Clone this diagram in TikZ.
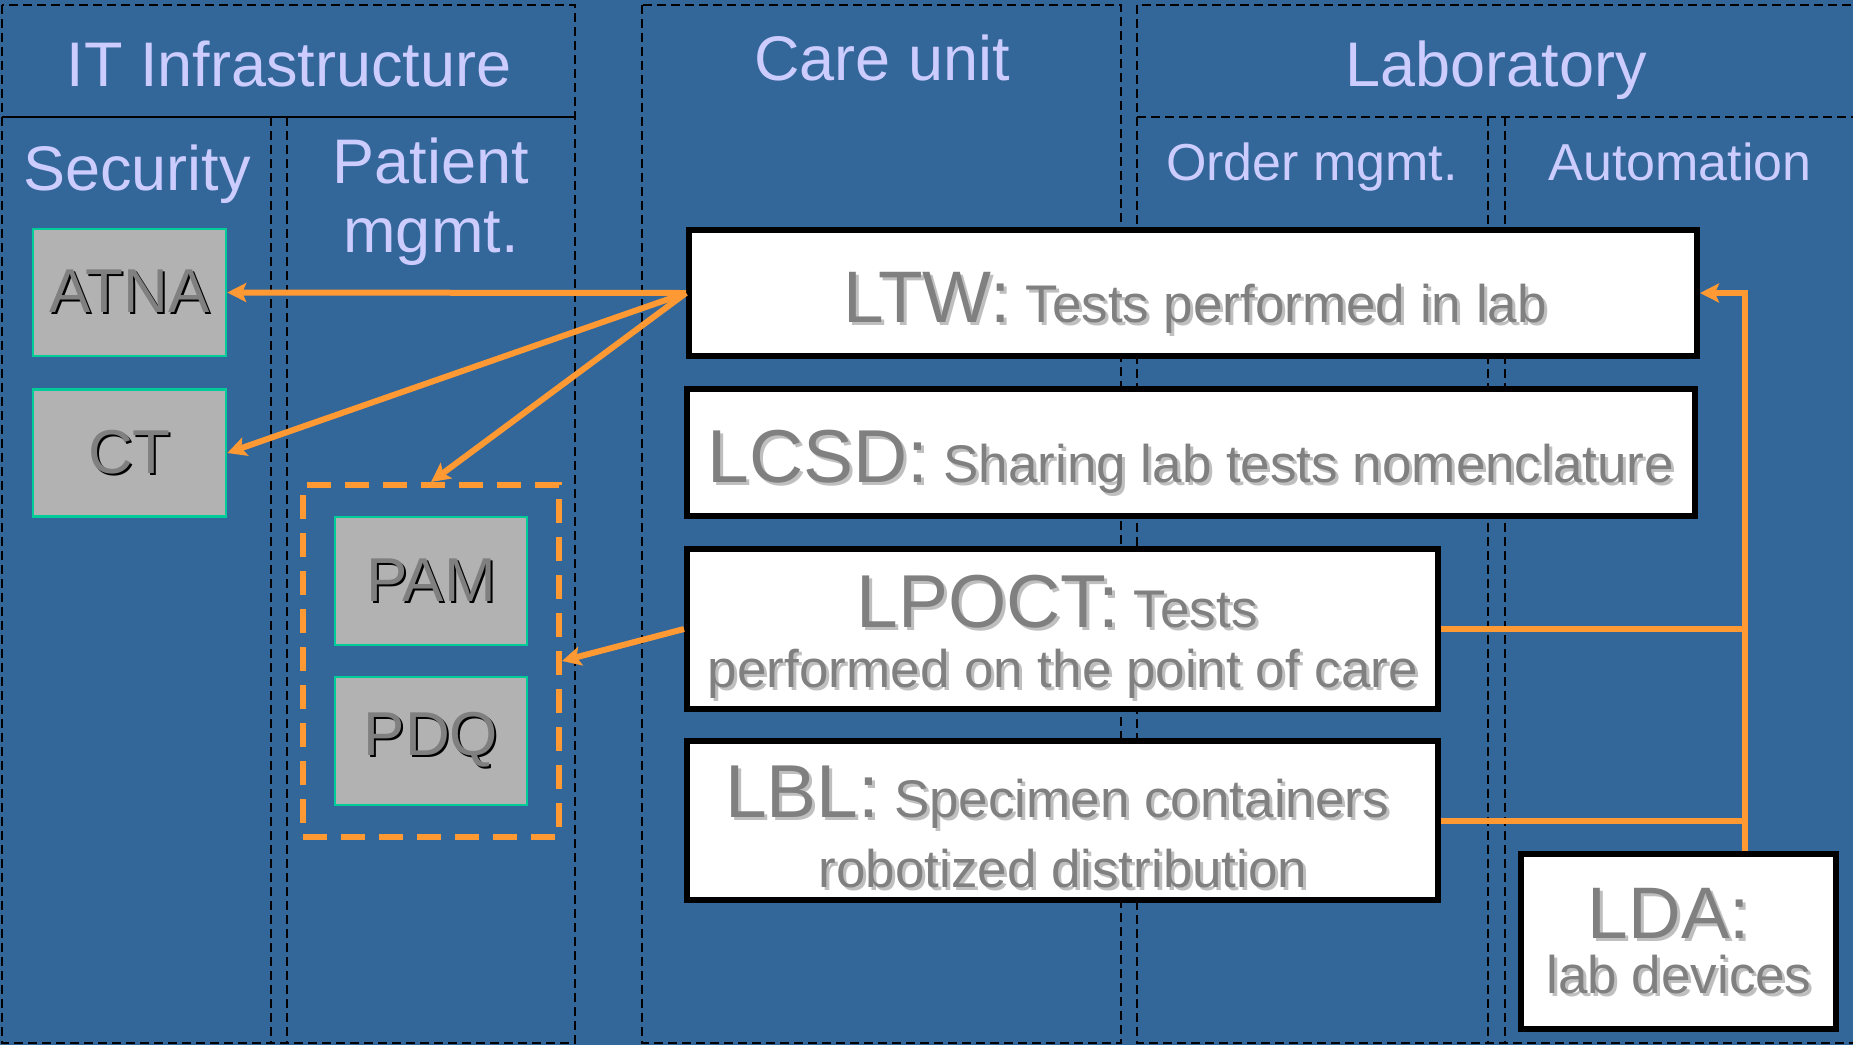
\documentclass[tikz,border=0pt]{standalone}
\usepackage{fontspec}
\setmainfont{Liberation Sans}
\usetikzlibrary{arrows.meta}
\definecolor{bgblue}{HTML}{336699}
\definecolor{hdr}{HTML}{CCCCFF}
\definecolor{orng}{HTML}{FF9933}
\definecolor{boxgray}{HTML}{B2B2B2}
\definecolor{tealline}{HTML}{00CC99}
\definecolor{txtgray}{HTML}{808080}
\definecolor{shdgray}{HTML}{BFBFBF}
\newcommand\shtxt[4]{\makebox[0pt][l]{\kern#4\raisebox{-#4}{\color{#2}#3}}{\color{#1}#3}}
\newcommand\fs[1]{\fontsize{#1}{#1}\selectfont}
\newcommand\wt[1]{\shtxt{txtgray}{shdgray}{#1}{3pt}}
\newcommand\gt[1]{\shtxt{txtgray}{black}{\fs{62}#1}{2pt}}
\begin{document}
\begin{tikzpicture}[x=1pt,y=-1pt,
  colline/.style={draw=black, line width=1.5pt, dash pattern=on 9pt off 5pt},
  hdrtxt/.style={text=hdr, anchor=base, inner sep=0pt},
  graybox/.style={draw=tealline, fill=boxgray, line width=2.5pt, minimum width=193pt, minimum height=127pt, inner sep=0pt},
  whitebox/.style={draw=black, fill=white, line width=6pt, inner sep=0pt},
  boxtxt/.style={anchor=base, inner sep=0pt},
  oline/.style={draw=orng, line width=6pt},
  arr/.style={oline, -{Stealth[length=19pt, width=19pt, inset=4pt]}},
]
\fill[bgblue] (0,0) rectangle (1853,1045);
\useasboundingbox (0,0) rectangle (1853,1045);

% columns
\draw[colline] (2,5) rectangle (575,1043);
\draw[colline] (271,117) -- (271,1043);
\draw[colline] (287,117) -- (287,1043);
\draw[black, line width=2pt] (2,117) -- (575,117);
\draw[colline] (642,5) rectangle (1121,1043);
\draw[colline] (1137,5) rectangle (1870,1043);
\draw[colline] (1137,117) -- (1870,117);
\draw[colline] (1488,117) -- (1488,1043);
\draw[colline] (1505,117) -- (1505,1043);

% headers
\node[hdrtxt] (hIT) at (289,86) {\fs{63}IT Infrastructure};
\node[hdrtxt] (hCare) at (882,80) {\fs{63}Care unit};
\node[hdrtxt] (hLab) at (1496,86) {\fs{63}Laboratory};
\node[hdrtxt] (hSec) at (137,190) {\fs{63}Security};
\node[hdrtxt] (hPat1) at (431,183) {\fs{63}Patient};
\node[hdrtxt] (hPat2) at (431,252) {\fs{63}mgmt.};
\node[hdrtxt] (hOrd) at (1312,180) {\fs{52}Order mgmt.};
\node[hdrtxt] (hAuto) at (1680,180) {\fs{52}Automation};

% gray boxes
\node[graybox] (atna) at (129.5,292.5) {\gt{ATNA}};
\node[graybox] (ct) at (129.5,453) {\gt{CT}};
\node[graybox, minimum width=192pt, minimum height=128pt] (pam) at (431,581) {\gt{PAM}};
\node[graybox, minimum width=192pt, minimum height=128pt] (pdq) at (431,741) {\gt{PDQ}};
\node[draw=orng, line width=6pt, dash pattern=on 24pt off 14pt, minimum width=256pt, minimum height=352pt, inner sep=0pt] (grp) at (431,661) {};

% white boxes
\node[whitebox, minimum width=1008pt, minimum height=126pt] (ltw) at (1193,293) {};
\node[whitebox, minimum width=1007.5pt, minimum height=127pt] (lcsd) at (1191,452.5) {};
\node[whitebox, minimum width=751pt, minimum height=160pt] (lpoct) at (1062.5,629) {};
\node[whitebox, minimum width=751pt, minimum height=159pt] (lbl) at (1062.5,820.5) {};
\node[whitebox, minimum width=315pt, minimum height=175pt] (lda) at (1678.5,941.5) {};

\node[boxtxt] (tltw) at (1195,322) {\wt{\fs{73}LTW:\fs{53} Tests performed in lab}};
\node[boxtxt] (tlcsd) at (1191,482) {\wt{\fs{75}LCSD:\fs{53} Sharing lab tests nomenclature}};
\node[boxtxt] (tlpoct1) at (1057,627) {\wt{\fs{75}LPOCT:\fs{53} Tests}};
\node[boxtxt] (tlpoct2) at (1063,687) {\wt{\fs{53}performed on the point of care}};
\node[boxtxt] (tlbl1) at (1057,817) {\wt{\fs{75}LBL:\fs{53} Specimen containers}};
\node[boxtxt] (tlbl2) at (1063,887) {\wt{\fs{53}robotized distribution}};
\node[boxtxt] (tlda1) at (1669,938) {\wt{\fs{73}LDA:}};
\node[boxtxt] (tlda2) at (1679,993) {\wt{\fs{53}lab devices}};

% connectors
\draw[arr] (ltw.west) -- (atna.east);
\draw[arr] (ltw.west) -- (ct.east);
\draw[arr] (ltw.west) -- (grp.north);
\draw[arr] (lpoct.west) -- (grp.east);
\coordinate (bus) at (1745,293);
\draw[arr] (bus |- lda.north) -- (bus) -- (ltw.east);
\draw[oline] (lpoct.east) -- (lpoct.east -| bus);
\draw[oline] (lbl.east) -- (lbl.east -| bus);
\end{tikzpicture}
\end{document}
